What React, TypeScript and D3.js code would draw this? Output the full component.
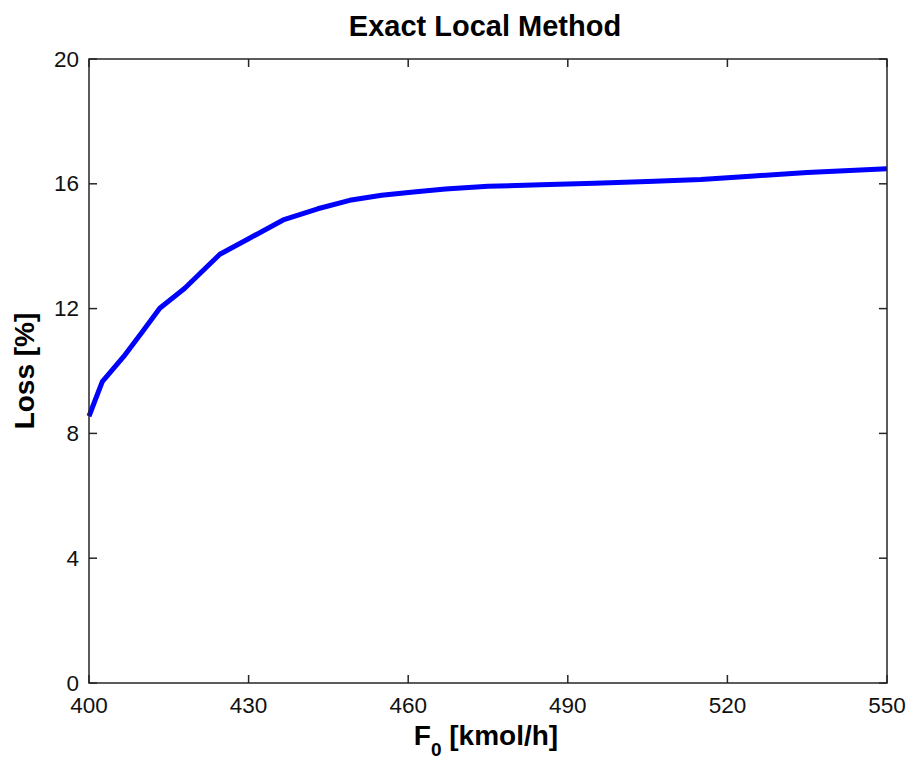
import React from "react";
import * as d3 from "d3";

const F0 = [400, 402.5, 406.5, 410, 413.3, 418, 421, 424.6, 430, 436.5, 443, 449, 455, 461, 467, 475, 485, 495, 505, 515, 525, 535, 542, 550];
const LOSS = [8.55, 9.66, 10.46, 11.25, 12.01, 12.65, 13.15, 13.74, 14.24, 14.84, 15.2, 15.47, 15.63, 15.74, 15.83, 15.92, 15.97, 16.02, 16.07, 16.14, 16.25, 16.36, 16.42, 16.48];
const X_TICKS = [400, 430, 460, 490, 520, 550];
const Y_TICKS = [0, 4, 8, 12, 16, 20];
const TITLE = "Exact Local Method";

export default function App() {
  const W = 909, H = 761;
  const left = 89, right = 887, top = 59, bottom = 683;
  const x = d3.scaleLinear().domain([400, 550]).range([left, right]);
  const y = d3.scaleLinear().domain([0, 20]).range([bottom, top]);
  const line = d3.line<number>().x((_, i) => x(F0[i])).y((d) => y(d));
  const font = "'Liberation Sans', Arial, sans-serif";
  const axisColor = "#262626";
  const tl = 8;
  return (
    <svg width={W} height={H} style={{ position: "absolute", left: 0, top: 0, background: "#fff" }}>
      <rect x={0} y={0} width={W} height={H} fill="#fff" />
      <path d={line(LOSS) || ""} fill="none" stroke="#0000ff" strokeWidth={5} strokeLinejoin="round" />
      <rect x={left} y={top} width={right - left} height={bottom - top} fill="none" stroke={axisColor} strokeWidth={1.5} />
      {X_TICKS.map((t) => (
        <g key={"x" + t}>
          <line x1={x(t)} x2={x(t)} y1={bottom} y2={bottom - tl} stroke={axisColor} strokeWidth={1.5} />
          <line x1={x(t)} x2={x(t)} y1={top} y2={top + tl} stroke={axisColor} strokeWidth={1.5} />
          <text x={x(t)} y={713} textAnchor="middle" fontFamily={font} fontSize={22.5} fill="#111">{t}</text>
        </g>
      ))}
      {Y_TICKS.map((t) => (
        <g key={"y" + t}>
          <line x1={left} x2={left + tl} y1={y(t)} y2={y(t)} stroke={axisColor} strokeWidth={1.5} />
          <line x1={right} x2={right - tl} y1={y(t)} y2={y(t)} stroke={axisColor} strokeWidth={1.5} />
          <text x={79} y={y(t) + 7.5} textAnchor="end" fontFamily={font} fontSize={22.5} fill="#111">{t}</text>
        </g>
      ))}
      <text x={485} y={36} textAnchor="middle" fontFamily={font} fontSize={29} fontWeight="bold" fill="#000">{TITLE}</text>
      <text x={486} y={745} textAnchor="middle" fontFamily={font} fontSize={28} fontWeight="bold" fill="#000">
        F<tspan fontSize={19} dy={11}>0</tspan><tspan dy={-11}> [kmol/h]</tspan>
      </text>
      <text transform={`translate(34, ${(top + bottom) / 2}) rotate(-90)`} textAnchor="middle" fontFamily={font} fontSize={28} fontWeight="bold" fill="#000">Loss [%]</text>
    </svg>
  );
}
